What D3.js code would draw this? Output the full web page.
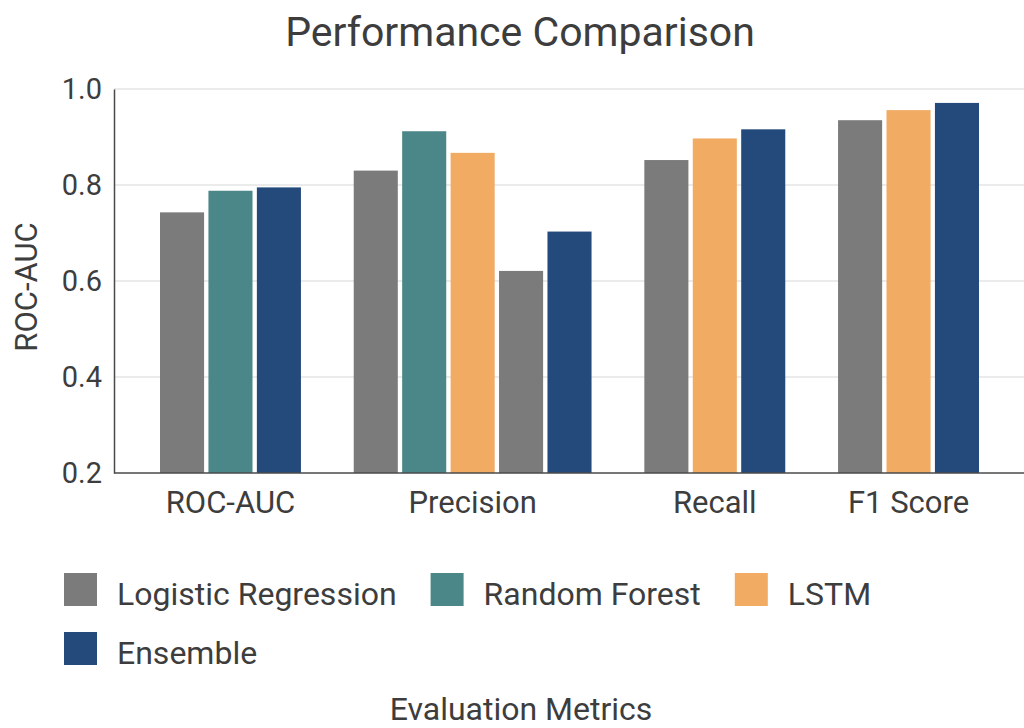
<!DOCTYPE html>
<html>
<head>
<meta charset="utf-8">
<script src="https://cdn.jsdelivr.net/npm/d3@7"></script>
<style>
  html, body { margin: 0; padding: 0; background: #ffffff; }
  svg { display: block; font-family: Roboto, "Noto Sans", sans-serif; }
</style>
</head>
<body>
<svg id="chart" width="1024" height="728"></svg>
<script>
// ---- data ----
const categories = ["ROC-AUC", "Precision", "Recall", "F1 Score"];
const models = ["Logistic Regression", "Random Forest", "LSTM", "Ensemble"];
const colors = ["#7b7b7b", "#4b8788", "#f1ab63", "#244a7c"];

const rocModels = ["Logistic Regression", "Random Forest", "Ensemble"];
const rocValues = [0.743, 0.788, 0.795];
const precisionModels = ["Logistic Regression", "Random Forest", "LSTM", "Logistic Regression", "Ensemble"];
const precisionValues = [0.830, 0.912, 0.867, 0.621, 0.703];
const recallModels = ["Logistic Regression", "LSTM", "Ensemble"];
const recallValues = [0.852, 0.897, 0.916];
const f1Models = ["Logistic Regression", "LSTM", "Ensemble"];
const f1Values = [0.935, 0.956, 0.971];

const yTicks = [0.2, 0.4, 0.6, 0.8, 1.0];
const yDomain = [0.2, 1.0];

const title = "Performance Comparison";
const yTitle = "ROC-AUC";
const xTitle = "Evaluation Metrics";

// ---- build flattened bar list with gap slots between groups ----
const groups = [
  {cat: categories[0], models: rocModels, values: rocValues},
  {cat: categories[1], models: precisionModels, values: precisionValues},
  {cat: categories[2], models: recallModels, values: recallValues},
  {cat: categories[3], models: f1Models, values: f1Values}
];
const slots = [];
const bars = [];
groups.forEach((g, gi) => {
  if (gi > 0) slots.push("gap" + gi);
  g.models.forEach((m, i) => {
    const key = g.cat + "|" + i;
    slots.push(key);
    bars.push({key, cat: g.cat, model: m, value: g.values[i]});
  });
});

// ---- layout ----
const svg = d3.select("#chart");
const axisX = 114, plotRight = 1024, plotTop = 89, plotBottom = 473;
const textColor = "#3d3d3d";

const x = d3.scaleBand().domain(slots).range([160, 979]).paddingInner(0.09).paddingOuter(0);
const y = d3.scaleLinear().domain(yDomain).range([plotBottom, plotTop]);
const color = d3.scaleOrdinal().domain(models).range(colors);

// gridlines
svg.append("g").selectAll("line").data(yTicks.filter(t => t > yDomain[0]))
  .join("line")
  .attr("x1", axisX).attr("x2", plotRight)
  .attr("y1", d => y(d)).attr("y2", d => y(d))
  .attr("stroke", "#e4e4e4").attr("stroke-width", 1.5);

// bars
svg.append("g").selectAll("rect").data(bars)
  .join("rect")
  .attr("x", d => x(d.key))
  .attr("width", x.bandwidth())
  .attr("y", d => y(d.value))
  .attr("height", d => y(yDomain[0]) - y(d.value))
  .attr("fill", d => color(d.model));

// y axis
const yAxis = d3.axisLeft(y).tickValues(yTicks).tickFormat(d3.format(".1f")).tickSize(0).tickPadding(12);
const gy = svg.append("g").attr("transform", `translate(${axisX},0)`).call(yAxis);
gy.select(".domain").attr("stroke", "#4a4a4a").attr("stroke-width", 1.5);
gy.selectAll("text").attr("font-size", 29).attr("fill", textColor).attr("font-family", "Roboto, sans-serif");

// x axis line
svg.append("line")
  .attr("x1", axisX).attr("x2", plotRight)
  .attr("y1", plotBottom).attr("y2", plotBottom)
  .attr("stroke", "#4a4a4a").attr("stroke-width", 1.5);

// category labels
svg.append("g").selectAll("text").data(groups)
  .join("text")
  .attr("x", g => {
    const first = x(g.cat + "|0");
    const last = x(g.cat + "|" + (g.models.length - 1)) + x.bandwidth();
    return (first + last) / 2;
  })
  .attr("y", 513)
  .attr("text-anchor", "middle")
  .attr("font-size", 31)
  .attr("fill", textColor)
  .text(g => g.cat);

// title
svg.append("text").attr("x", 520).attr("y", 46).attr("text-anchor", "middle")
  .attr("font-size", 41).attr("fill", textColor).text(title);

// y title
svg.append("text").attr("transform", "translate(37,287) rotate(-90)")
  .attr("text-anchor", "middle").attr("font-size", 31).attr("fill", textColor).text(yTitle);

// x title
svg.append("text").attr("x", 521).attr("y", 720).attr("text-anchor", "middle")
  .attr("font-size", 32).attr("fill", textColor).text(xTitle);

// legend
const legendRows = [[models[0], models[1], models[2]], [models[3]]];
const legend = svg.append("g");
legendRows.forEach((row, ri) => {
  let cx = 64;
  row.forEach(m => {
    const gItem = legend.append("g").attr("transform", `translate(${cx},${573 + ri * 59})`);
    gItem.append("rect").attr("width", 33).attr("height", 33).attr("fill", color(m));
    const t = gItem.append("text").attr("x", 53).attr("y", 32)
      .attr("font-size", 32).attr("fill", textColor).text(m);
    const w = t.node().getComputedTextLength();
    cx += 53 + w + 34;
  });
});
</script>
</body>
</html>
